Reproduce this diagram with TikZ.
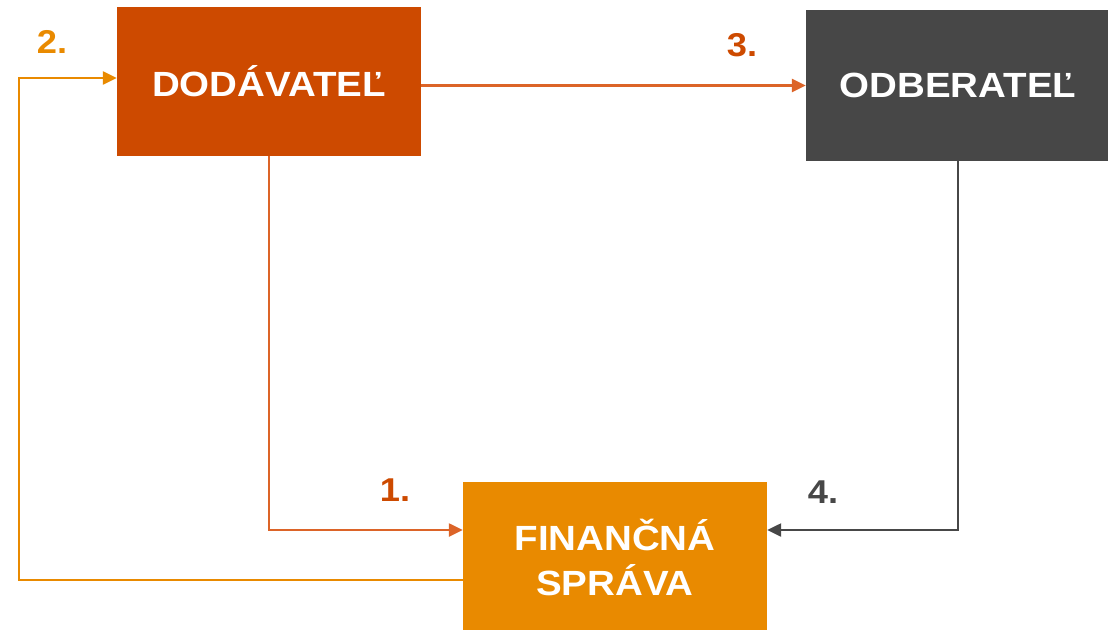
\documentclass[tikz,border=0pt]{standalone}
\usepackage{fontspec}
\setmainfont{Liberation Sans}
\newfontfamily\widefont[FakeStretch=1.1]{Liberation Sans}
\usetikzlibrary{arrows.meta}
\definecolor{cdod}{HTML}{CD4A00}
\definecolor{codb}{HTML}{474747}
\definecolor{cfin}{HTML}{E98A00}
\definecolor{cline}{HTML}{DC6428}
\begin{document}
\begin{tikzpicture}[x=1pt,y=-1pt,
  box/.style={rectangle, inner sep=0pt, text=white, font=\widefont\bfseries\fontsize{35}{45}\selectfont, align=center},
  lbl/.style={font=\widefont\bfseries\fontsize{33}{33}\selectfont, inner sep=0pt},
  conn/.style={line width=2.4pt, -{Triangle[length=14pt,width=13pt]}}]
\useasboundingbox (0,0) rectangle (1108,629);
\begin{scope}
\clip (0,0) rectangle (1108,629);
\node[box, fill=cdod, minimum width=304pt, minimum height=149pt] (DOD) at (269,81.5) {DODÁVATEĽ};
\node[box, fill=codb, minimum width=304pt, minimum height=151pt] (ODB) at (958,85.5) {ODBERATEĽ};
\node[box, fill=cfin, minimum width=304pt, minimum height=150pt] (FIN) at (615,557) {FINANČNÁ\\SPRÁVA};
\end{scope}
\coordinate (c2) at (19,78);
\draw[conn, color=cline] (DOD.south) |- ([yshift=27pt]FIN.west);
\draw[conn, color=cfin] ([yshift=-23pt]FIN.west) -| (c2) -- ([yshift=3.5pt]DOD.west);
\draw[conn, color=cline] (ODB.west -| DOD.east) -- (ODB.west);
\draw[conn, color=codb] (ODB.south) |- ([yshift=27pt]FIN.east);
\node[lbl, text=cfin] (l2) at (52,42) {2.};
\node[lbl, text=cdod] (l3) at (742,45) {3.};
\node[lbl, text=cdod] (l1) at (395,490) {1.};
\node[lbl, text=codb] (l4) at (823,492) {4.};
\end{tikzpicture}
\end{document}
